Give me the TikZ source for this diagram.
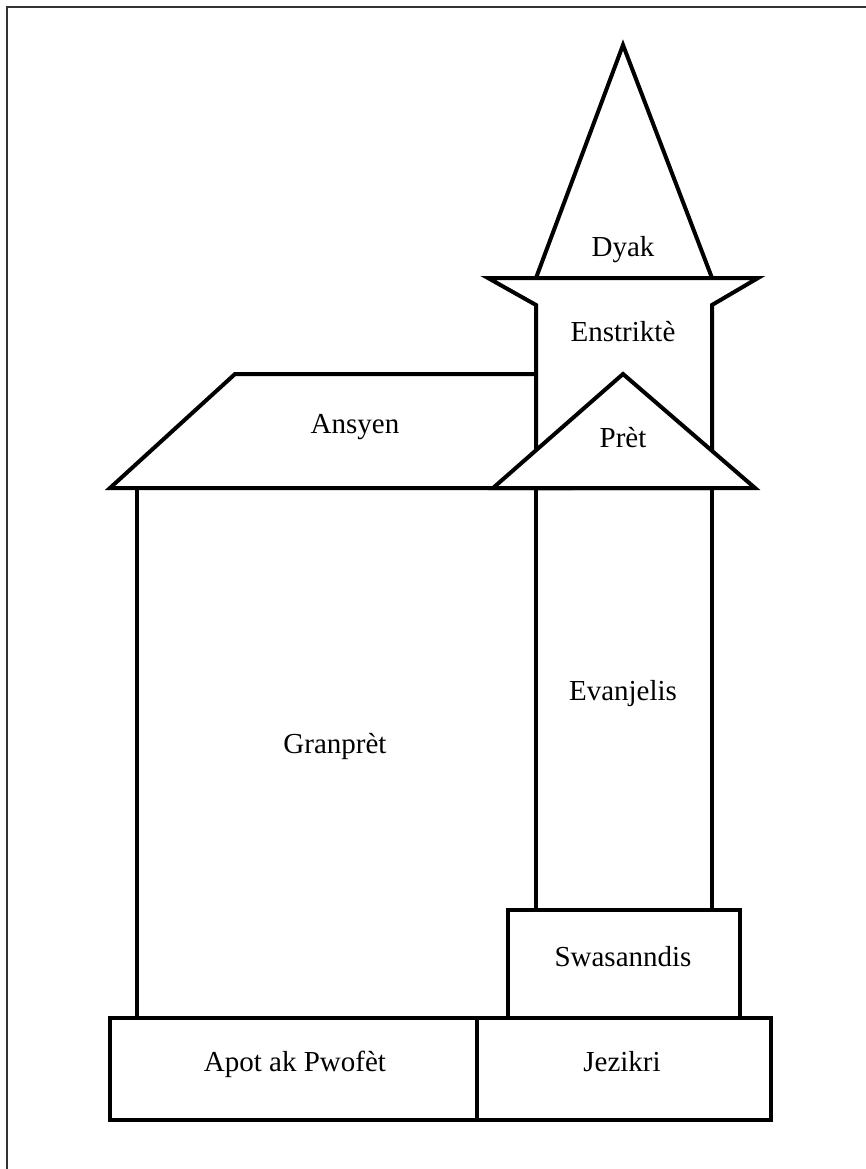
\documentclass[tikz,border=0pt]{standalone}
\usepackage{fontspec}
\setmainfont{Liberation Serif}
\begin{document}
\begin{tikzpicture}[x=1pt,y=-1pt,
  part/.style={draw=black,line width=4pt,fill=white},
  lbl/.style={font=\fontsize{29}{34}\selectfont,inner sep=0pt,text height=0.68em,text depth=0.2em}]
\useasboundingbox (0,0) rectangle (866,1169);
% frame
\draw[line width=1.6pt,black!80] (7,1190) -- (7,7) -- (890,7);
% Granpret
\draw[part] (137,488) rectangle (536,1018);
% Evanjelis
\draw[part] (536,488) rectangle (712,910);
% Ansyen
\draw[part] (110,488) -- (235,374) -- (570,374) -- (570,488) -- cycle;
% Dyak spire
\draw[part] (536,278) -- (623,45) -- (712,278) -- cycle;
% Enstrikte
\draw[part] (488,278) -- (758,278) -- (712,305) -- (712,488) -- (536,488) -- (536,305) -- cycle;
% Pret
\draw[part] (493,488) -- (623,374) -- (755,488) -- cycle;
% Swasanndis
\draw[part] (508,910) rectangle (740,1018);
% base
\draw[part] (110,1018) rectangle (477,1120);
\draw[part] (477,1018) rectangle (771,1120);
% labels
\node[lbl] (dyak) at (623,254) {Dyak};
\node[lbl] (enstrikte) at (623,339) {Enstriktè};
\node[lbl] (ansyen) at (355,431) {Ansyen};
\node[lbl] (pret) at (623,445) {Prèt};
\node[lbl] (evanjelis) at (623,698) {Evanjelis};
\node[lbl] (granpret) at (335,751) {Granprèt};
\node[lbl] (swasanndis) at (623,964) {Swasanndis};
\node[lbl] (apot) at (295,1069) {Apot ak Pwofèt};
\node[lbl] (jezikri) at (622,1069) {Jezikri};
\end{tikzpicture}
\end{document}
